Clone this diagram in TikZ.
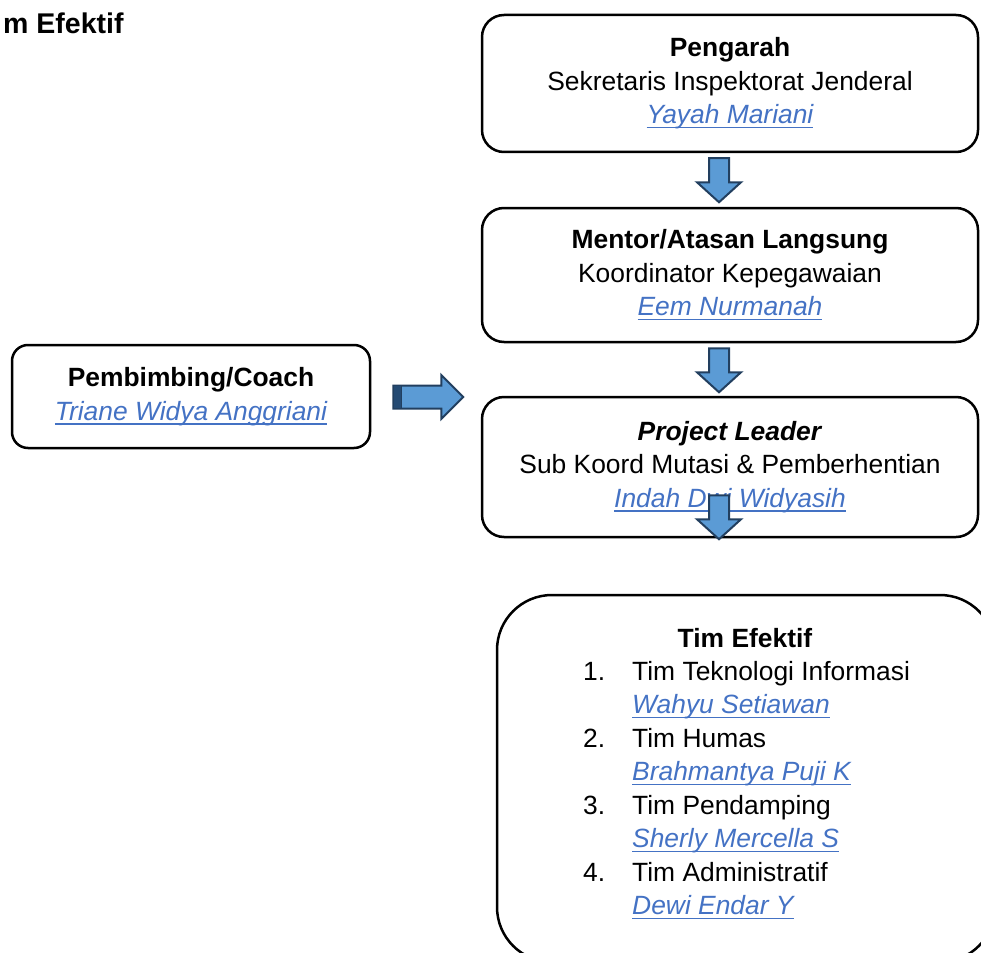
\documentclass[tikz,border=0pt]{standalone}
\usepackage{fontspec}
\setmainfont{Liberation Sans}
\usetikzlibrary{calc}
\definecolor{linkblue}{HTML}{4472C4}
\definecolor{arrowfill}{HTML}{5B9BD5}
\definecolor{arrowedge}{HTML}{223F5F}
\definecolor{arrowdark}{HTML}{244A73}
% underlined italic name in link colour
\newcommand\ulname[1]{{\color{linkblue}\itshape\setbox0\hbox{#1}\rlap{\rule[-4.5pt]{\wd0}{1.5pt}}\box0}}
\begin{document}
\begin{tikzpicture}[x=1pt,y=-1pt,
  txt/.style={font=\fontsize{26.4}{33.5}\selectfont},
  box/.style={txt, draw, line width=2.5pt, rounded corners=22pt, align=center, inner sep=0pt},
  blk/.style={fill=arrowfill, draw=arrowedge, line width=2pt, line join=miter},
  downblk/.pic={\draw[blk] (-10,0) -- (10,0) -- (10,24) -- (22,24) -- (0,44) -- (-22,24) -- (-10,24) -- cycle;},
  rightblk/.pic={\draw[blk] (0,-11.5) -- (48,-11.5) -- (48,-22) -- (70,0) -- (48,22) -- (48,11.5) -- (0,11.5) -- cycle;
                 \filldraw[fill=arrowdark, draw=arrowedge, line width=1.5pt] (0,-11.5) rectangle (8,11.5);}]
\useasboundingbox (0,0) rectangle (981,952);
\clip (0,0) rectangle (981,952);

% heading fragment
\node[anchor=base west, inner sep=0pt, font=\fontsize{28.5}{34}\selectfont\bfseries] (head) at (3,34) {m Efektif};

% hierarchy boxes
\node[box, minimum width=496pt, minimum height=137pt] (pengarah) at (730,83.5)
  {\textbf{Pengarah}\\Sekretaris Inspektorat Jenderal\\\ulname{Yayah Mariani}};
\node[box, minimum width=496pt, minimum height=134pt] (mentor) at (730,275)
  {\textbf{Mentor/Atasan Langsung}\\Koordinator Kepegawaian\\\ulname{Eem Nurmanah}};
\node[box, minimum width=496pt, minimum height=140pt] (leader) at (730,467)
  {\textbf{\itshape Project Leader}\\Sub Koord Mutasi \& Pemberhentian\\\ulname{Indah Dwi Widyasih}};
\node[box, rounded corners=16pt, minimum width=358pt, minimum height=103pt] (coach) at (191,396.5)
  {\textbf{Pembimbing/Coach}\\\ulname{Triane Widya Anggriani}};

% team box
\node[draw, line width=2.5pt, rounded corners=55pt, minimum width=498pt, minimum height=367pt, inner sep=0pt] (tim) at (746,778.5) {};
\node[txt, anchor=base, inner sep=0pt] (timhead) at (745,647) {\textbf{Tim Efektif}};
\node[txt, anchor=base west, inner sep=0pt] (timlist) at (583,680)
  {\begin{tabular}[t]{@{}p{49pt}@{}l@{}}
    1. & Tim Teknologi Informasi\\
       & \ulname{Wahyu Setiawan}\\
    2. & Tim Humas\\
       & \ulname{Brahmantya Puji K}\\
    3. & Tim Pendamping\\
       & \ulname{Sherly Mercella S}\\
    4. & Tim Administratif\\
       & \ulname{Dewi Endar Y}
  \end{tabular}};

% block arrows between the boxes
\pic at ($(pengarah.south)+(-11,5)$) {downblk};
\pic at ($(mentor.south)+(-11,5)$) {downblk};
\pic at ($(leader.south)+(-11,-43)$) {downblk};
\pic at ($(coach.east)+(22,0.5)$) {rightblk};
\end{tikzpicture}
\end{document}
